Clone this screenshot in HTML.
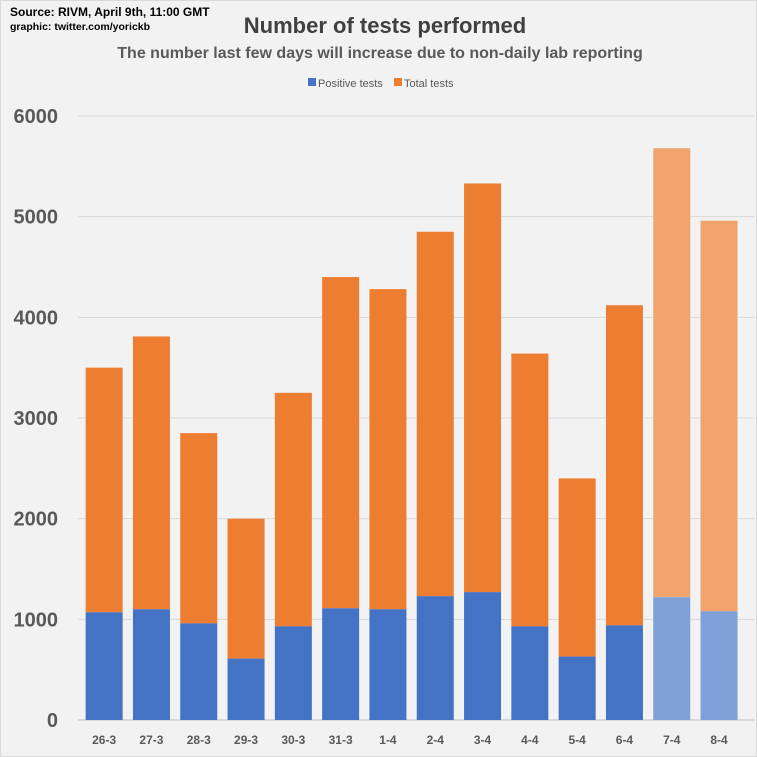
<!DOCTYPE html>
<html><head><meta charset="utf-8"><style>
html,body{margin:0;padding:0;background:#f2f2f2;}
svg{display:block;font-family:"Liberation Sans",sans-serif;}
</style></head><body>
<svg id="chart" width="757" height="757" viewBox="0 0 757 757">
<rect x="0.5" y="0.5" width="756" height="756" fill="#f2f2f2" stroke="#d9d9d9"/>
<text x="10" y="16" font-size="12" font-weight="bold" fill="#000">Source: RIVM, April 9th, 11:00 GMT</text>
<text x="10" y="30" font-size="10.5" font-weight="bold" fill="#000">graphic: twitter.com/yorickb</text>
<text x="385" y="33" font-size="22" font-weight="bold" fill="#404040" text-anchor="middle">Number of tests performed</text>
<text x="380" y="58" font-size="16" font-weight="bold" fill="#595959" text-anchor="middle">The number last few days will increase due to non-daily lab reporting</text>
<g>
<rect x="308" y="78" width="8" height="8" fill="#4472c4"/>
<text x="318" y="87" font-size="11" fill="#595959">Positive tests</text>
<rect x="394" y="78" width="8" height="8" fill="#ed7d31"/>
<text x="404" y="87" font-size="11" fill="#595959">Total tests</text>
</g>
<g id="grid"></g><g id="bars"></g><g id="axes"></g>
</svg>
<script>
const categories=["26-3","27-3","28-3","29-3","30-3","31-3","1-4","2-4","3-4","4-4","5-4","6-4","7-4","8-4"];
const totalTests=[3500,3810,2850,2000,3250,4400,4280,4850,5330,3640,2400,4120,5680,4960];
const positiveTests=[1070,1100,960,610,930,1110,1100,1230,1270,930,630,940,1220,1080];
const yTicks=[0,1000,2000,3000,4000,5000,6000];
const incomplete=[false,false,false,false,false,false,false,false,false,false,false,false,true,true];
const NS="http://www.w3.org/2000/svg";
const y0=720,yTop=116,yMax=6000;
const y=v=>y0-(v/yMax)*(y0-yTop);
const x0=80.5,step=47.3,bw=37;
const xc=i=>x0+step*(i+0.5);
function mk(tag,attrs,parent){const e=document.createElementNS(NS,tag);for(const k in attrs)e.setAttribute(k,attrs[k]);parent.appendChild(e);return e;}
const grid=document.getElementById('grid'),bars=document.getElementById('bars'),axes=document.getElementById('axes');
yTicks.forEach(t=>{
 const l=mk('line',{x1:78,x2:755,y1:y(t),y2:y(t),stroke:t===0?'#bfbfbf':'#d9d9d9','stroke-width':1},grid);
 
 
 const tx=mk('text',{x:58,y:y(t)+7,'font-size':20,'font-weight':'bold',fill:'#595959','text-anchor':'end'},axes);
 tx.textContent=t;
 
 
});
categories.forEach((c,i)=>{
 const f=incomplete[i];
 const r1=mk('rect',{x:xc(i)-bw/2,y:y(totalTests[i]),width:bw,height:y(positiveTests[i])-y(totalTests[i]),fill:f?'#f0a46c':'#ed7d31'},bars);
 
 
 const r2=mk('rect',{x:xc(i)-bw/2,y:y(positiveTests[i]),width:bw,height:y(0)-y(positiveTests[i]),fill:f?'#7fa0d8':'#4472c4'},bars);
 
 
 const tx=mk('text',{x:xc(i),y:744,'font-size':12,'font-weight':'bold',fill:'#595959','text-anchor':'middle'},axes);
 tx.textContent=c;
 
 
});
</script>
</body></html>
